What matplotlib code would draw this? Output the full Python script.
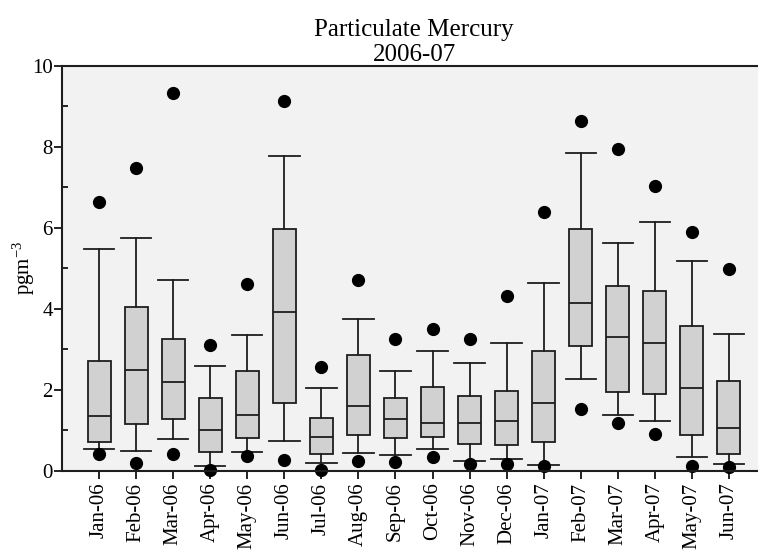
import matplotlib.pyplot as plt
from matplotlib.ticker import MultipleLocator

months = ['Jan-06', 'Feb-06', 'Mar-06', 'Apr-06', 'May-06', 'Jun-06', 'Jul-06',
          'Aug-06', 'Sep-06', 'Oct-06', 'Nov-06', 'Dec-06', 'Jan-07', 'Feb-07',
          'Mar-07', 'Apr-07', 'May-07', 'Jun-07']

# percentiles
p05 = [0.42, 0.18, 0.42, 0.02, 0.37, 0.26, 0.02, 0.24, 0.21, 0.33, 0.17, 0.17,
       0.12, 1.52, 1.18, 0.91, 0.12, 0.09]
p10 = [0.54, 0.49, 0.78, 0.12, 0.45, 0.73, 0.20, 0.43, 0.40, 0.53, 0.25, 0.28,
       0.15, 2.27, 1.38, 1.23, 0.35, 0.17]
p25 = [0.72, 1.15, 1.28, 0.45, 0.80, 1.66, 0.42, 0.89, 0.80, 0.84, 0.67, 0.64,
       0.72, 3.07, 1.94, 1.89, 0.89, 0.42]
p50 = [1.36, 2.49, 2.20, 1.00, 1.38, 3.93, 0.82, 1.60, 1.28, 1.17, 1.17, 1.23,
       1.66, 4.14, 3.30, 3.15, 2.03, 1.06]
p75 = [2.72, 4.03, 3.24, 1.80, 2.45, 5.97, 1.30, 2.85, 1.80, 2.07, 1.84, 1.96,
       2.95, 5.97, 4.55, 4.44, 3.57, 2.22]
p90 = [5.47, 5.75, 4.70, 2.59, 3.36, 7.77, 2.03, 3.75, 2.46, 2.96, 2.66, 3.15,
       4.63, 7.84, 5.63, 6.15, 5.19, 3.37]
p95 = [6.63, 7.47, 9.32, 3.11, 4.60, 9.14, 2.57, 4.72, 3.26, 3.51, 3.26, 4.31,
       6.40, 8.64, 7.95, 7.04, 5.90, 4.99]

plt.rcParams['font.family'] = ['Liberation Serif', 'DejaVu Serif']
plt.rcParams['mathtext.default'] = 'regular'

stats = []
for i in range(len(months)):
    stats.append(dict(whislo=p10[i], q1=p25[i], med=p50[i], q3=p75[i],
                      whishi=p90[i], fliers=[p05[i], p95[i]]))

fig = plt.figure(figsize=(7.58, 5.5), dpi=100)
# right edge of the axes runs past the picture, as in the original
ax = fig.add_axes([62 / 758, 1 - 470.7 / 550, 704 / 758, 405 / 550])
ax.set_facecolor('#f2f2f2')

edge = '#1e1e1e'
ax.bxp(stats, positions=range(1, len(months) + 1), widths=0.62,
       patch_artist=True, showcaps=True,
       boxprops=dict(facecolor='#d0d1d0', edgecolor=edge, linewidth=1.3),
       medianprops=dict(color=edge, linewidth=1.3),
       whiskerprops=dict(color=edge, linewidth=1.3),
       capprops=dict(color=edge, linewidth=1.3),
       flierprops=dict(marker='o', markerfacecolor='black', markeredgecolor='black',
                       markersize=8.5, clip_on=False),
       capwidths=0.82)

ax.set_xlim(0, 19)
ax.set_ylim(0, 10)
ax.set_xticks(range(1, len(months) + 1))
ax.set_xticklabels(months, rotation=90, fontsize=15)
ax.yaxis.set_major_locator(MultipleLocator(2))
ax.yaxis.set_minor_locator(MultipleLocator(1))
ax.tick_params(axis='y', which='major', direction='out', length=6, width=1.2,
               labelsize=15, pad=0.5)
ax.tick_params(axis='y', which='minor', direction='in', length=4, width=1.2)
ax.tick_params(axis='x', direction='out', length=6, width=1.2, pad=2.5)
for s in ax.spines.values():
    s.set_linewidth(1.5)
    s.set_color(edge)

ax.set_ylabel('pgm$^{-3}$', fontsize=15)
ax.yaxis.set_label_coords(-0.036, 0.5)
ax.set_title('Particulate Mercury\n2006-07', fontsize=18, pad=2, linespacing=1.15)

plt.savefig('out.png', dpi=100)
